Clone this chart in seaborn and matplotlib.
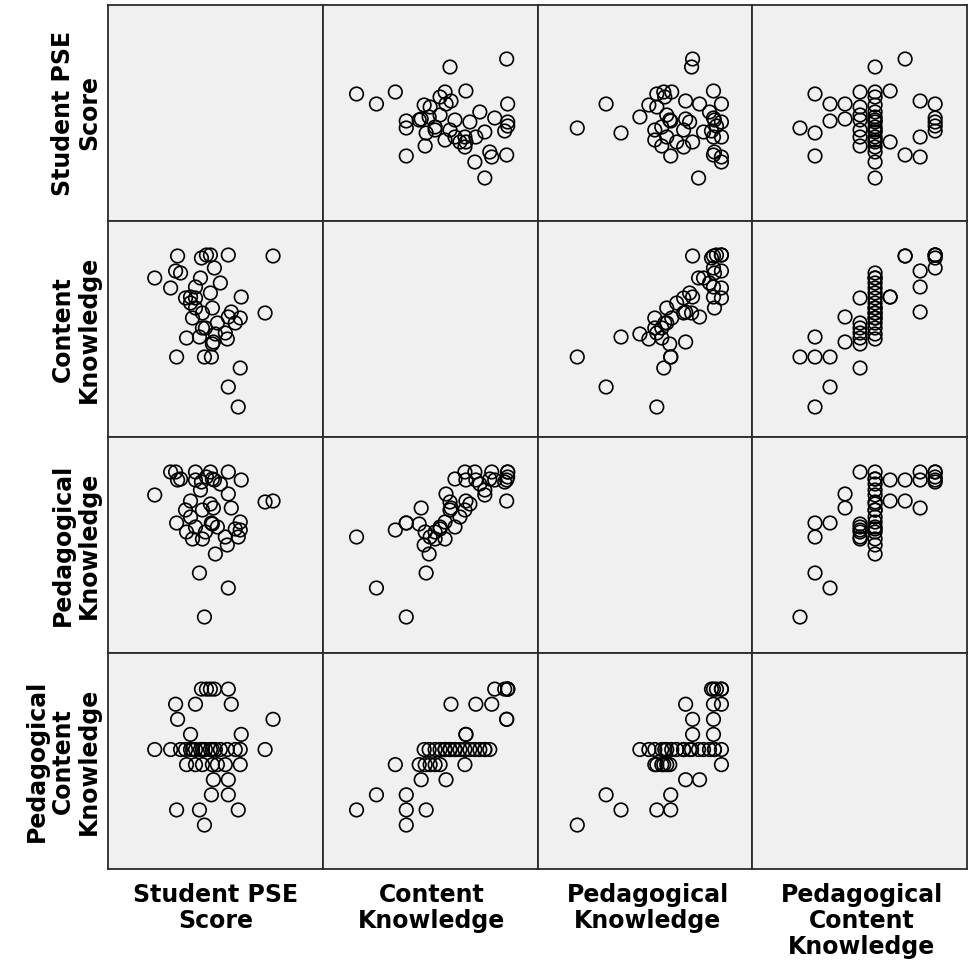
import pandas as pd
import seaborn as sns
import matplotlib.pyplot as plt

pse = [48.5,
       65.5, 46, 34.5,
       60.5, 52,
       53, 60.5,
       66.5, 44, 39.5, 47.5, 52.5, 55, 59,
       23.5, 79, 31.5, 36.5, 39, 41.5, 44, 46.5, 49, 51.5, 54, 56.5, 60, 64, 66.5, 47.5, 52.5, 42.5,
       67, 41.5,
       83, 35,
       34, 44, 62,
       60.5, 51.5, 49.5, 53.5, 47]
ck = [42,
      17, 52, 42,
      27, 42,
      49.5, 62,
      36.5, 71.5, 51.5, 56.5, 48.5, 59, 54,
      81.5, 64, 76.5, 84, 71.5, 69, 66.5, 81.5, 56.5, 74, 53.5, 79, 51, 59, 61.5, 64, 66.5, 61.5,
      72, 72,
      92.5, 92.5,
      85, 77, 64.5,
      93, 93, 93, 86.5, 91.5]
pk = [20,
      60, 42, 67,
      34.5, 67,
      74.5, 81.5,
      63.5, 92.5, 62.5, 59, 66.5, 65, 60,
      81, 77.5, 92.5, 89, 73.5, 70, 65, 83.5, 62.5, 76.5, 51.5, 86.5, 56, 64, 67.5, 73.5, 89, 59,
      88.5, 78,
      78, 88.5,
      92.5, 88.5, 74.5,
      92.5, 92.5, 90, 88.5, 87.5]
pck = [1,
       2, 2, 2,
       3, 3,
       4, 4,
       5, 5, 5, 5, 5, 5, 5,
       6, 6, 6, 6, 6, 6, 6, 6, 6, 6, 6, 6, 6, 6, 6, 6, 6, 6,
       7, 7,
       8, 8,
       9, 9, 9,
       10, 10, 10, 10, 10]

labels = ["Student PSE\nScore", "Content\nKnowledge",
          "Pedagogical\nKnowledge", "Pedagogical\nContent\nKnowledge"]

df = pd.DataFrame({labels[0]: pse, labels[1]: ck, labels[2]: pk, labels[3]: pck})

# axis ranges per variable (x range, y range)
lims = {
    labels[0]: ((0, 108), (2, 110)),
    labels[1]: ((0, 108), (2, 110)),
    labels[2]: ((0, 108), (2, 110)),
    labels[3]: ((-2.18, 12.12), (-1.91, 12.39)),
}

sns.set_style("white")
plt.rcParams['font.family'] = ['DejaVu Sans']

g = sns.PairGrid(df, vars=labels, height=2.4)
g.map_offdiag(sns.scatterplot, s=95, facecolors='none', edgecolor='black', linewidth=1.2)

g.figure.set_size_inches(9.68, 9.72)
g.figure.subplots_adjust(left=108/968, right=967/968, top=1 - 5/972, bottom=1 - 869/972,
                         wspace=0, hspace=0)

for i, row_var in enumerate(labels):
    for j, col_var in enumerate(labels):
        ax = g.axes[i, j]
        ax.set_facecolor('#f0f0f0')
        ax.set_xlim(*lims[col_var][0])
        ax.set_ylim(*lims[row_var][1])
        ax.set_xticks([])
        ax.set_yticks([])
        ax.set_xlabel('')
        ax.set_ylabel('')
        for sp in ax.spines.values():
            sp.set_visible(True)
            sp.set_color('#2b2b2b')
            sp.set_linewidth(1.3)

# variable names along the bottom and the left side
centers = [216, 432, 648, 862]
for k, lab in enumerate(labels):
    g.figure.text(centers[k] / 968, 1 - 883 / 972, lab, ha='center', va='top',
                  fontsize=17, fontweight='bold', linespacing=1.1, color='black')
row_centers = [113, 329, 545, 761]
for k, lab in enumerate(labels):
    g.figure.text(101 / 968, 1 - row_centers[k] / 972, lab, ha='right', va='center',
                  rotation=90, fontsize=17, fontweight='bold', linespacing=1.1,
                  multialignment='center', color='black')

g.figure.savefig('out.png', dpi=100, facecolor='white')
